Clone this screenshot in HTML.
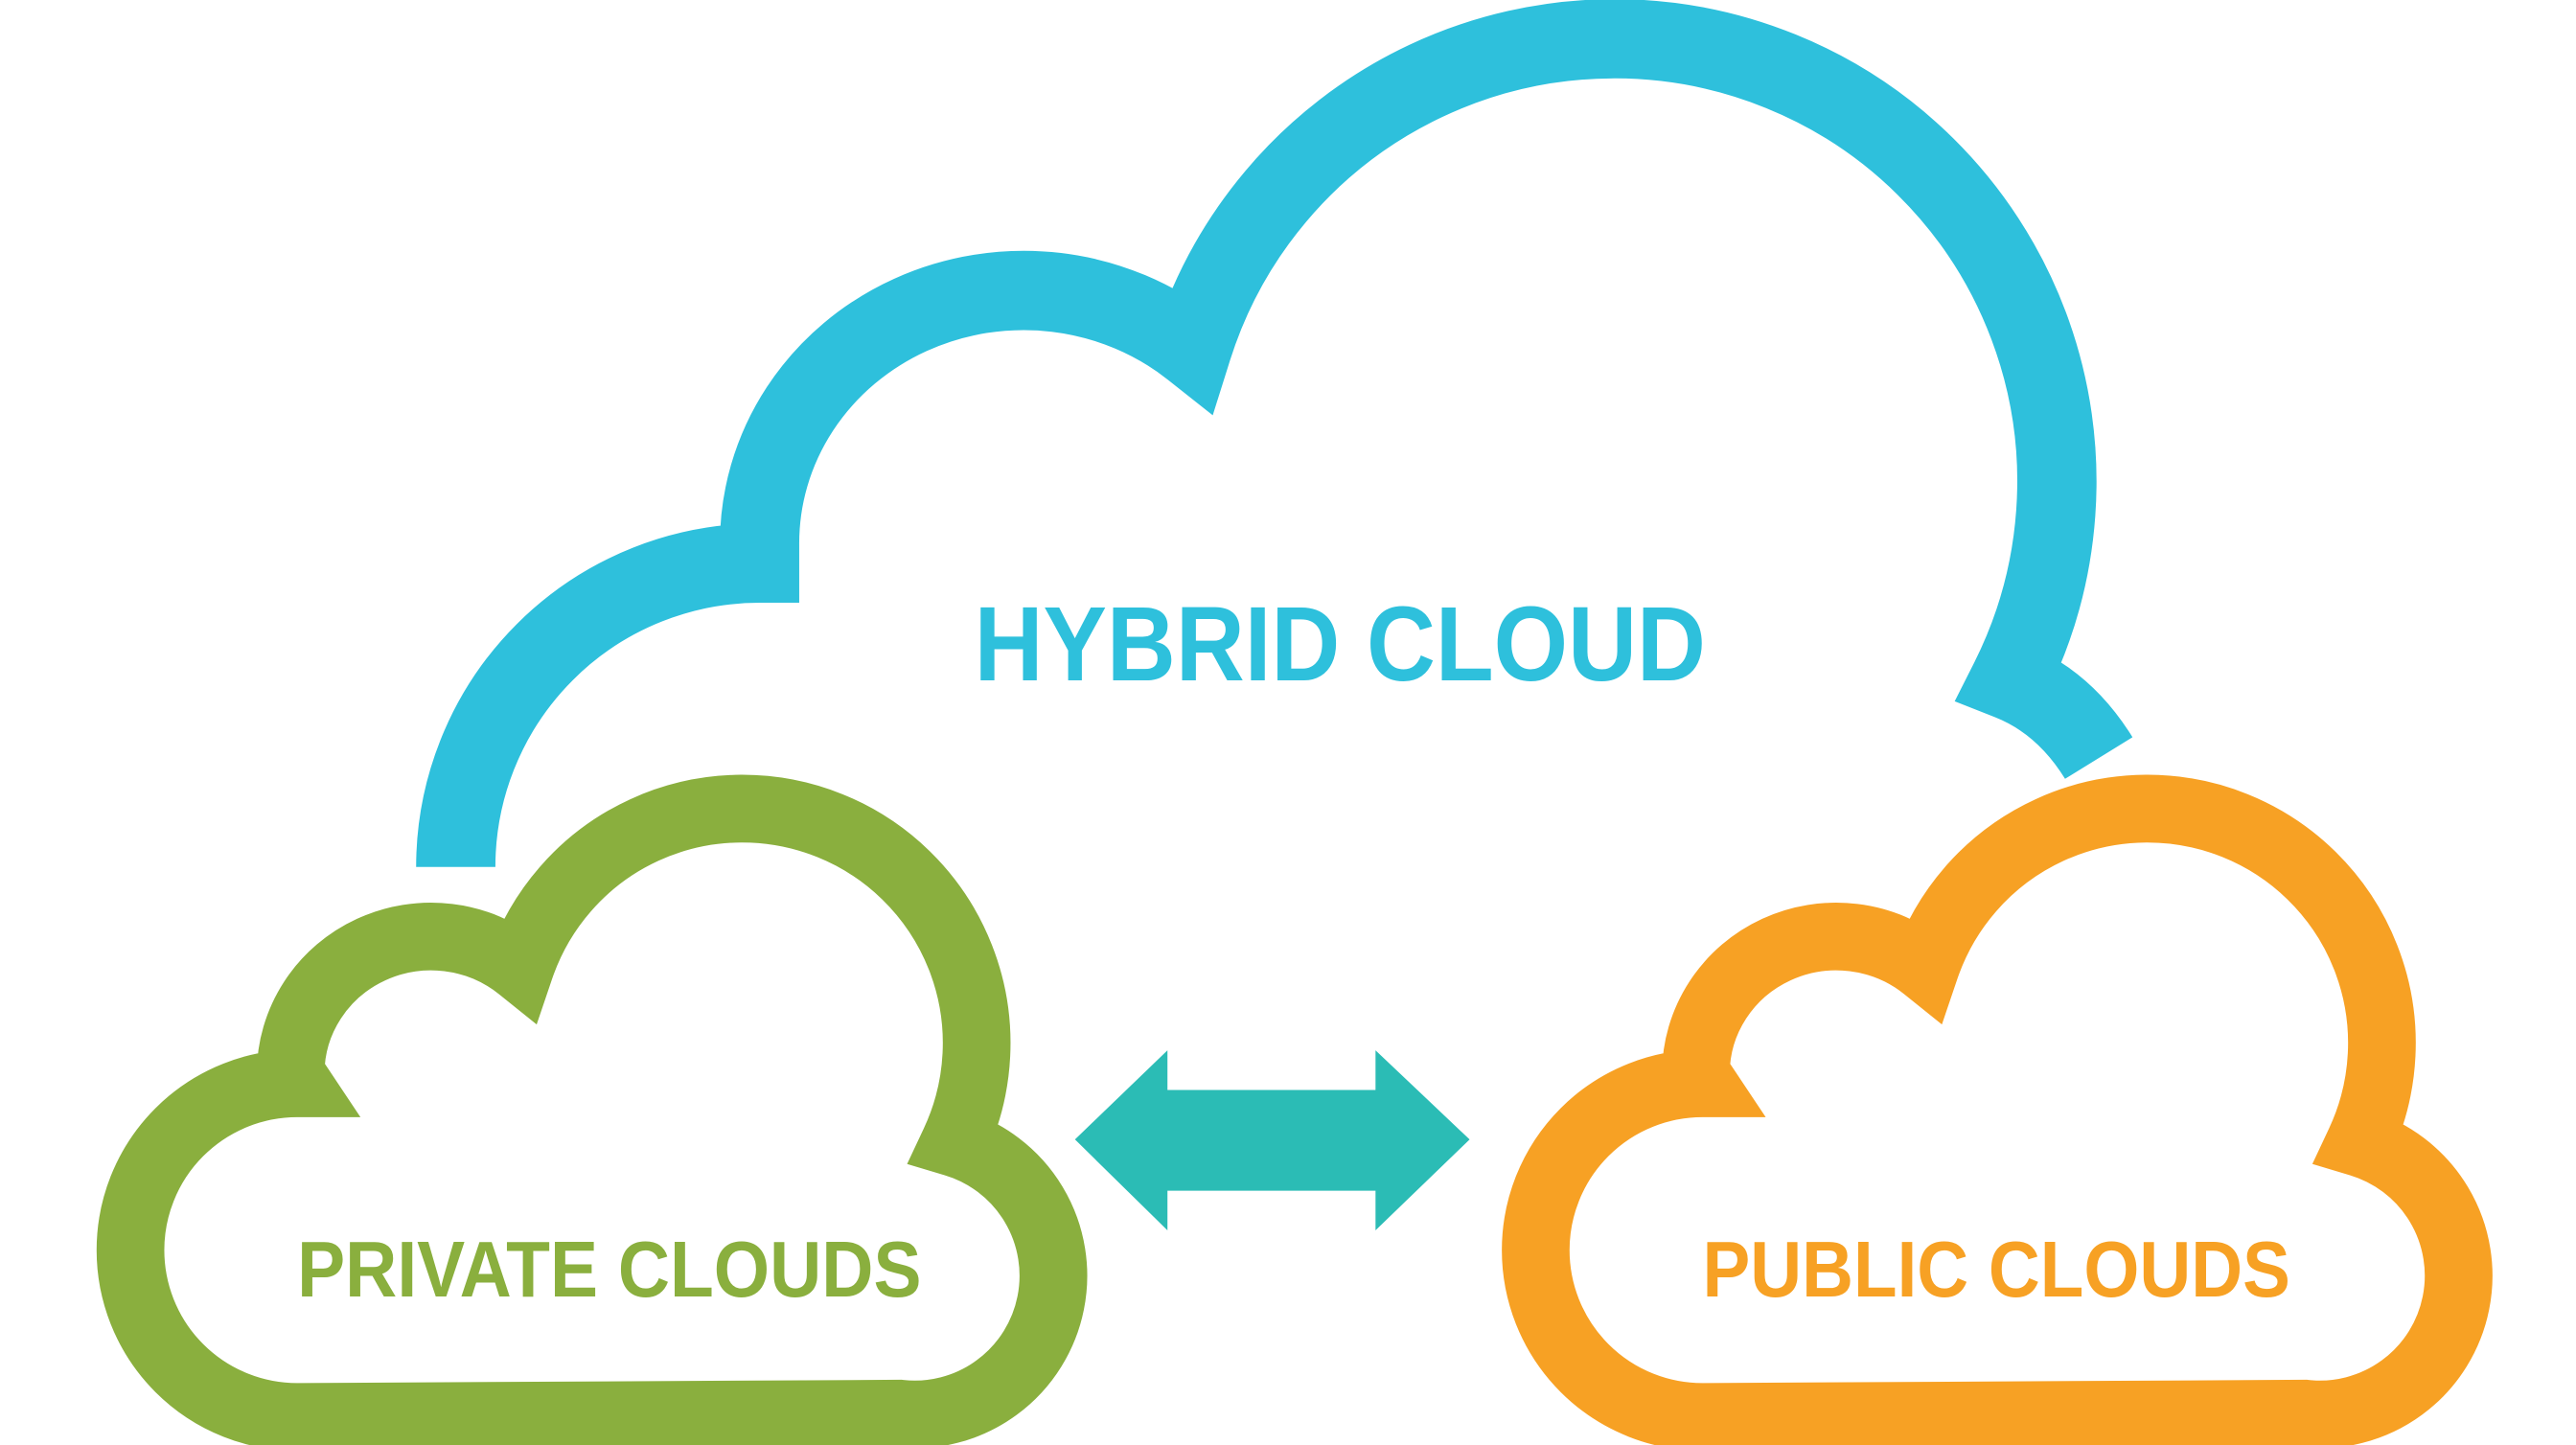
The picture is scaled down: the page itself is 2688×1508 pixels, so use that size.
<!DOCTYPE html>
<html><head><meta charset="utf-8"><style>
html,body{margin:0;padding:0;background:#fff;}
svg{display:block;}
</style></head><body>
<svg width="2688" height="1508" viewBox="0 0 1560 875" preserveAspectRatio="none" xmlns="http://www.w3.org/2000/svg">
<rect width="1560" height="875" fill="#fff"/>
<!-- Hybrid cloud -->
<path d="M276,525 A184 184 0 0 1 460,341 L460,330 A160 153 0 0 1 722,211 A268 268 0 1 1 1217,412 Q1250,425 1271,459" fill="none" stroke="#2ec0dc" stroke-width="48" stroke-linejoin="miter" stroke-miterlimit="3"/>
<!-- Private cloud -->
<path d="M180,858 A101 101 0 0 1 79,757 A101 101 0 0 1 180,656 L176,650 A85 83 0 0 1 315,586 A142 142 0 1 1 578,692 A84 84 0 0 1 545,856 Z" fill="none" stroke="#8aaf3e" stroke-width="41" stroke-linejoin="miter" stroke-miterlimit="3"/>
<!-- Public cloud -->
<path transform="translate(851,0)" d="M180,858 A101 101 0 0 1 79,757 A101 101 0 0 1 180,656 L176,650 A85 83 0 0 1 315,586 A142 142 0 1 1 578,692 A84 84 0 0 1 545,856 Z" fill="none" stroke="#f7a124" stroke-width="41" stroke-linejoin="miter" stroke-miterlimit="3"/>
<!-- Arrow -->
<polygon points="651,690 707,636 707,660 833,660 833,636 890,690 833,745 833,721 707,721 707,745" fill="#2bbcb5"/>
<!-- Text -->
<text x="590" y="412" font-family="Liberation Sans, sans-serif" font-weight="bold" font-size="64" fill="#2ec0dc" textLength="443" lengthAdjust="spacingAndGlyphs">HYBRID CLOUD</text>
<text x="180" y="785" font-family="Liberation Sans, sans-serif" font-weight="bold" font-size="48" fill="#8aaf3e" textLength="378" lengthAdjust="spacingAndGlyphs">PRIVATE CLOUDS</text>
<text x="1031" y="785" font-family="Liberation Sans, sans-serif" font-weight="bold" font-size="48" fill="#f7a124" textLength="356" lengthAdjust="spacingAndGlyphs">PUBLIC CLOUDS</text>
</svg>
</body></html>
